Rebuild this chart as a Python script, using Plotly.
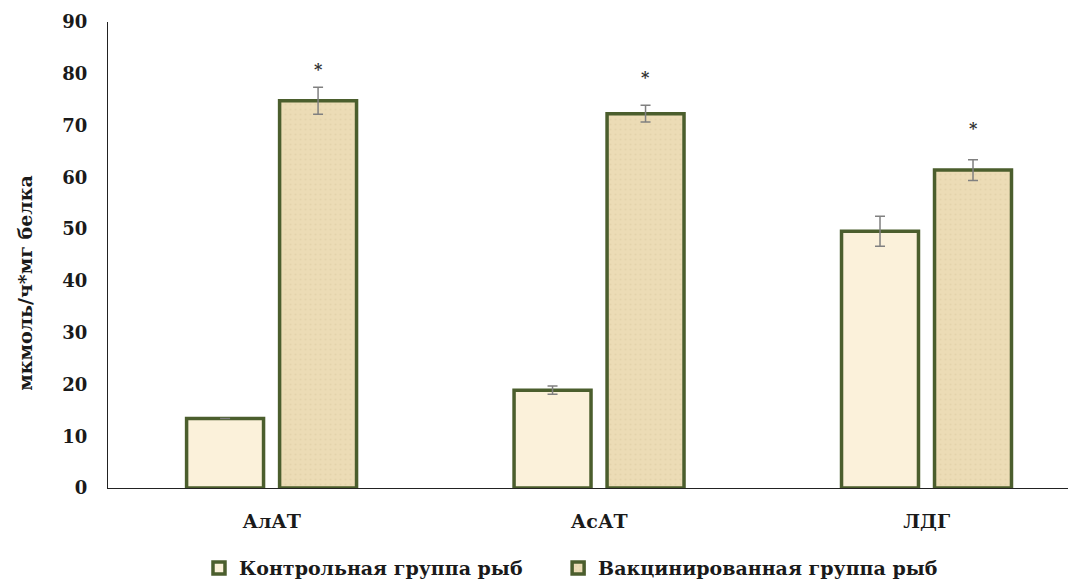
import plotly.graph_objects as go

categories = ["АлАТ", "АсАТ", "ЛДГ"]
control_values = [13.4, 18.9, 49.6]
control_errors = [0.0, 0.8, 2.9]
vaccinated_values = [74.8, 72.3, 61.4]
vaccinated_errors = [2.6, 1.6, 2.0]
star_values = [80.9, 79.2, 69.5]
series_names = ["Контрольная группа рыб", "Вакцинированная группа рыб"]
y_title = "мкмоль/ч*мг белка"

FONT = "DejaVu Serif"
edge = "#4b5e2d"
bar_w = 0.235

fig = go.Figure()
fig.add_trace(go.Bar(
    x=categories, y=control_values, name="<b>" + series_names[0] + "</b>",
    width=bar_w, offset=-0.26, legend="legend",
    marker=dict(color="#fbf1da", line=dict(color=edge, width=3.5)),
    error_y=dict(type="data", array=control_errors, color="#808080", thickness=1.5, width=5),
))
fig.add_trace(go.Bar(
    x=categories, y=vaccinated_values, name="<b>" + series_names[1] + "</b>",
    width=bar_w, offset=0.024, legend="legend2",
    marker=dict(color="#ecdcb6", line=dict(color=edge, width=3.5),
                pattern=dict(shape=".", fgcolor="#dcc9a0", size=5, solidity=0.15)),
    error_y=dict(type="data", array=vaccinated_errors, color="#808080", thickness=1.5, width=5),
))

for i, v in enumerate(star_values):
    fig.add_annotation(x=i + 0.024 + bar_w / 2, y=v, text="<b>*</b>", showarrow=False,
                       font=dict(family=FONT, size=16, color="#333333"), yanchor="middle")

fig.add_annotation(xref="paper", yref="paper", x=-0.086, y=0.44, text="<b>" + y_title + "</b>",
                   textangle=-90, showarrow=False, xanchor="center", yanchor="middle",
                   font=dict(family=FONT, size=19, color="#1a1a1a"))

legend_style = dict(orientation="h", xanchor="left", y=-0.172, yanchor="middle",
                    font=dict(family=FONT, size=19, color="#1a1a1a"), bgcolor="rgba(0,0,0,0)")

fig.update_layout(
    width=1076, height=582,
    paper_bgcolor="white", plot_bgcolor="white",
    margin=dict(l=100, r=8, t=14, b=102, autoexpand=False),
    barmode="group",
    font=dict(family=FONT, size=17, color="#1a1a1a"),
    showlegend=True,
    legend=dict(x=0.094, **legend_style),
    legend2=dict(x=0.465, **legend_style),
    xaxis=dict(range=[-0.5, 2.456], showline=True, linecolor="#222222", linewidth=1.2,
               showgrid=False, ticks="", automargin=False,
               tickfont=dict(family=FONT, size=19, color="#1a1a1a"),
               ticklabelstandoff=16, tickprefix="<b>", ticksuffix="</b>"),
    yaxis=dict(range=[0, 90], dtick=10, showline=True, linecolor="#222222", linewidth=1.2,
               showgrid=False, zeroline=False, ticks="", automargin=False,
               tickfont=dict(family=FONT, size=18, color="#1a1a1a"), ticklabelstandoff=16,
               tickprefix="<b>", ticksuffix="</b>"),
)

fig.write_html("out.html")
